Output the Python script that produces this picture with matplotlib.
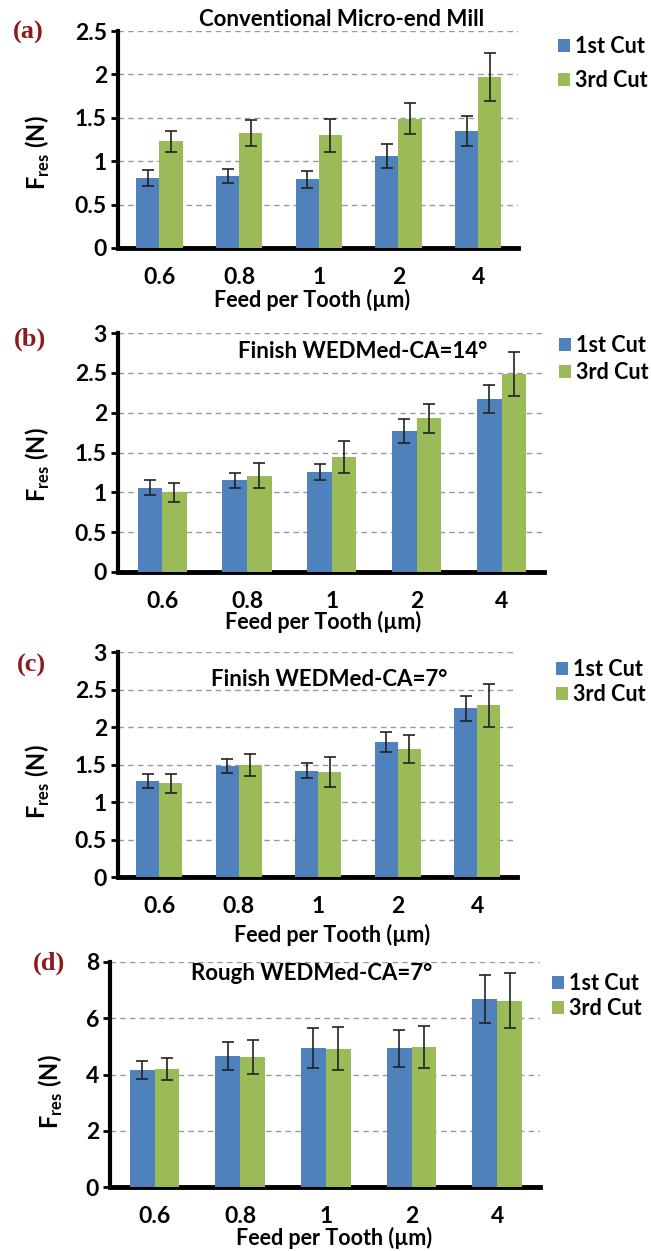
import numpy as np
import matplotlib
matplotlib.use("Agg")
import matplotlib.pyplot as plt

plt.rcParams['font.family'] = ['Lato', 'DejaVu Sans']
plt.rcParams['font.weight'] = 'bold'
plt.rcParams['axes.labelweight'] = 'bold'
plt.rcParams['mathtext.fontset'] = 'custom'
plt.rcParams['mathtext.rm'] = 'Lato:bold'
plt.rcParams['mathtext.bf'] = 'Lato:bold'

feeds = ['0.6', '0.8', '1', '2', '4']
series = ['1st Cut', '3rd Cut']

# (a) conventional micro-end mill
a_first = [0.81, 0.83, 0.79, 1.06, 1.35]
a_first_err = [0.09, 0.085, 0.10, 0.14, 0.17]
a_third = [1.23, 1.32, 1.30, 1.49, 1.97]
a_third_err = [0.12, 0.15, 0.19, 0.18, 0.28]

# (b) finish WEDMed CA=14
b_first = [1.06, 1.15, 1.26, 1.77, 2.17]
b_first_err = [0.09, 0.09, 0.10, 0.145, 0.175]
b_third = [1.00, 1.21, 1.44, 1.93, 2.49]
b_third_err = [0.12, 0.155, 0.20, 0.185, 0.275]

# (c) finish WEDMed CA=7
c_first = [1.28, 1.48, 1.42, 1.80, 2.25]
c_first_err = [0.095, 0.09, 0.10, 0.135, 0.17]
c_third = [1.25, 1.49, 1.40, 1.71, 2.29]
c_third_err = [0.125, 0.145, 0.195, 0.185, 0.285]

# (d) rough WEDMed CA=7
d_first = [4.15, 4.66, 4.93, 4.93, 6.69]
d_first_err = [0.32, 0.51, 0.71, 0.65, 0.86]
d_third = [4.20, 4.61, 4.92, 4.98, 6.63]
d_third_err = [0.40, 0.60, 0.76, 0.75, 0.97]

blue = '#4F81BD'
green = '#9BBB59'

fig = plt.figure(figsize=(6.51, 12.51), dpi=100)
W, H = 651.0, 1251.0
fx = lambda p: p / W
fy = lambda p: 1 - p / H

# all positions in pixels from top-left
panels = [
    dict(letter='(a)', title='Conventional Micro-end Mill', data=(a_first, a_first_err, a_third, a_third_err),
         box=(118, 518, 31, 248), ymax=2.5, yt=[0, 0.5, 1, 1.5, 2, 2.5],
         tpos=(342, 20), lpos=(28, 32), leg=(558, 36), lsp=0.6, ylab=(38, 153), xlab=(312, 300)),
    dict(letter='(b)', title='Finish WEDMed-CA=14°', data=(b_first, b_first_err, b_third, b_third_err),
         box=(118, 544, 333, 572), ymax=3, yt=[0, 0.5, 1, 1.5, 2, 2.5, 3],
         tpos=(363, 352), lpos=(30, 339), leg=(559, 335), lsp=0.27, ylab=(38, 465), xlab=(323, 622)),
    dict(letter='(c)', title='Finish WEDMed-CA=7°', data=(c_first, c_first_err, c_third, c_third_err),
         box=(118, 517, 652, 877), ymax=3, yt=[0, 0.5, 1, 1.5, 2, 2.5, 3],
         tpos=(329, 679), lpos=(31, 665), leg=(556, 659), lsp=0.18, ylab=(38, 782), xlab=(332, 935)),
    dict(letter='(d)', title='Rough WEDMed-CA=7°', data=(d_first, d_first_err, d_third, d_third_err),
         box=(110, 540, 962, 1187), ymax=8, yt=[0, 2, 4, 6, 8],
         tpos=(312, 973), lpos=(49, 963), leg=(552, 973), lsp=0.18, ylab=(51, 1092), xlab=(334, 1238)),
]

x = np.arange(len(feeds))
bw = 0.29
ekw = dict(ecolor='#222222', elinewidth=1.2, capsize=4, capthick=1.2, zorder=4)

for p in panels:
    f1, e1, f3, e3 = p['data']
    l, r, t, b = p['box']
    ax = fig.add_axes([fx(l), fy(b), (r - l) / W, (b - t) / H])
    ax.bar(x - bw / 2, f1, bw, color=blue, label=series[0], zorder=3, yerr=e1, error_kw=ekw)
    ax.bar(x + bw / 2, f3, bw, color=green, label=series[1], zorder=3, yerr=e3, error_kw=ekw)
    ax.set_xlim(-0.52, 4.5)
    ax.set_ylim(0, p['ymax'])
    ax.set_yticks(p['yt'])
    ax.set_yticklabels([('%g' % v) for v in p['yt']])
    ax.set_xticks(x)
    ax.set_xticklabels(feeds)
    ax.tick_params(axis='x', length=0, labelsize=16.5, pad=14)
    ax.tick_params(axis='y', length=5, width=2, labelsize=16.5, direction='out', pad=3)
    for v in p['yt'][1:]:
        ax.axhline(v, color='#999999', linestyle=(0, (4, 3)), linewidth=1.0, zorder=1)
    for s in ['top', 'right']:
        ax.spines[s].set_visible(False)
    ax.spines['left'].set_linewidth(3)
    ax.spines['bottom'].set_linewidth(3.5)
    ax.set_xlabel('Feed per Tooth (µm)', fontsize=15.5, va='center')
    ax.xaxis.set_label_coords(fx(p['xlab'][0]), fy(p['xlab'][1]), transform=fig.transFigure)
    ax.set_ylabel(r'F$_{\mathregular{res}}$ (N)', fontsize=17, va='center')
    ax.yaxis.set_label_coords(fx(p['ylab'][0]), fy(p['ylab'][1]), transform=fig.transFigure)
    fig.text(fx(p['tpos'][0]), fy(p['tpos'][1]), p['title'], ha='center', va='center', fontsize=16)
    fig.text(fx(p['lpos'][0]), fy(p['lpos'][1]), p['letter'], ha='center', va='center', fontsize=19,
             family='Liberation Serif', weight='bold', color='#8B1A1A')
    ax.legend(loc='upper left', bbox_to_anchor=(fx(p['leg'][0]), fy(p['leg'][1])),
              bbox_transform=fig.transFigure, frameon=False, fontsize=15.5,
              handlelength=0.55, handleheight=0.55, handletextpad=0.25,
              labelspacing=p['lsp'], borderaxespad=0, borderpad=0)

fig.savefig('out.png', dpi=100)
